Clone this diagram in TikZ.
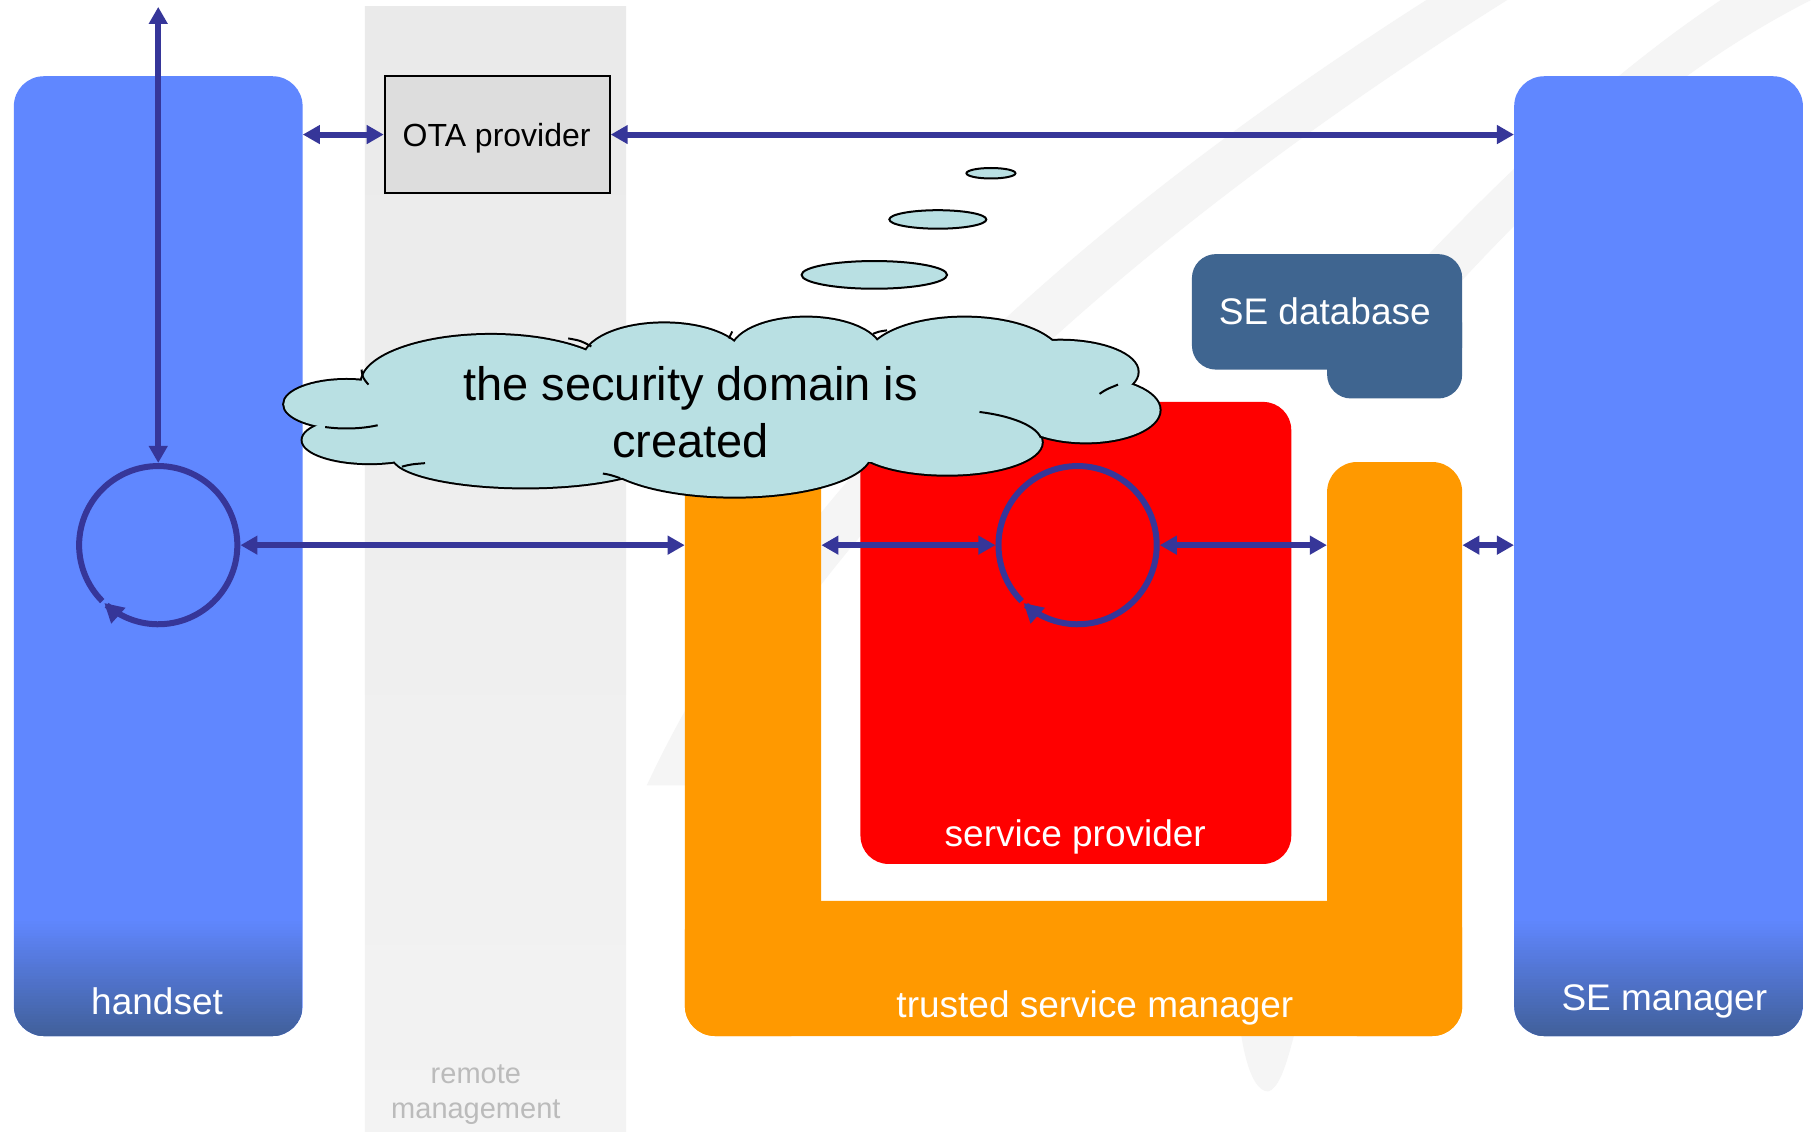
\documentclass[tikz,border=0pt]{standalone}
\usepackage{fontspec}
\setmainfont{Liberation Sans}
\usetikzlibrary{arrows.meta,calc,shapes.geometric}
\definecolor{hblue}{HTML}{6087FF}
\definecolor{hdark}{HTML}{41609B}
\definecolor{navy}{HTML}{363699}
\definecolor{tsmor}{HTML}{FF9900}
\definecolor{spred}{HTML}{FF0000}
\definecolor{sedb}{HTML}{3F6590}
\definecolor{cloudc}{HTML}{B9E0E3}
\definecolor{otagray}{HTML}{DDDDDD}
\definecolor{colgray}{HTML}{EAEAEA}
\definecolor{colgraytwo}{HTML}{F3F3F3}
\definecolor{wm}{HTML}{F5F5F5}
\definecolor{rmtext}{HTML}{BBBBBB}
\begin{document}
\begin{tikzpicture}[x=1.155pt,y=-1.155pt,
  bigbox/.style={rectangle, rounded corners=30pt, fill=hblue, inner sep=0pt,
    minimum width=288.75pt, minimum height=959.8pt},
  conn/.style={draw=navy, line width=6pt, {Triangle[length=17pt,width=18pt]}-{Triangle[length=17pt,width=18pt]}},
  loopar/.style={draw=navy, line width=6pt, -{Triangle[length=19pt,width=20pt]}},
  circnode/.style={circle, minimum size=164pt, inner sep=0pt},
  otabox/.style={rectangle, draw=black, line width=2pt, fill=otagray, inner sep=0pt,
    minimum width=225pt, minimum height=117pt},
  tsmpart/.style={rectangle, fill=tsmor, rounded corners=30pt, inner sep=0pt},
  lbl/.style={text=white, font=\fontsize{37pt}{44pt}\selectfont, inner sep=0pt, anchor=base},
  bubble/.style={ellipse, draw=black, line width=2pt, fill=cloudc, inner sep=0pt},
  cloudline/.style={draw=black, line width=2pt}
]
\useasboundingbox (0,0) rectangle (1568,980);
\fill[white] (0,0) rectangle (1568,980);
% faint watermark
\fill[wm] (1235,0) .. controls (1000,150) and (700,380) .. (560,680) -- (600,680) .. controls (740,400) and (1050,160) .. (1305,0) -- cycle;
\fill[wm] (1490,0) .. controls (1400,60) and (1300,150) .. (1200,260) -- (1250,260) .. controls (1350,150) and (1450,60) .. (1568,0) -- cycle;
\fill[wm] (1070,800) .. controls (1068,900) and (1082,945) .. (1098,945) .. controls (1115,940) and (1122,880) .. (1145,800) -- cycle;
% remote management column
\shade[top color=colgray, bottom color=colgraytwo] (316,6) rectangle (542,980);
\node[text=rmtext, font=\fontsize{29pt}{35pt}\selectfont, align=center, inner sep=0pt] (rmlbl) at (412,948) {remote\\management};

% handset and SE manager
\node[bigbox] (hset) at (137,481.5) {};
\node[bigbox] (sem) at (1436,481.5) {};
\foreach \bx in {12,1311} {
  \begin{scope}
    \clip[rounded corners=30pt] (\bx,66) rectangle ++(250,831);
    \foreach \i in {0,...,40} {
      \pgfmathsetmacro\pc{\i*2.5}
      \fill[hdark!\pc!hblue] (\bx,795+\i*2.5) rectangle ++(250,2.8);
    }
    \fill[hdark] (\bx,896) rectangle ++(250,2);
  \end{scope}
}
\node[lbl] (hlbl) at (136,878) {handset};
\node[lbl] (semlbl) at (1441,875) {SE manager};

% trusted service manager (U shape)
\node[tsmpart, minimum width=136.3pt, minimum height=597.1pt] (tsmL) at (652,638.5) {};
\node[tsmpart, minimum width=135.1pt, minimum height=574pt] (tsmR) at (1207.5,648.5) {};
\node[tsmpart, minimum width=777.3pt, minimum height=135.1pt] (tsmB) at (929.5,838.5) {};
\node[lbl] (tsmlbl) at (948,881) {trusted service manager};

% service provider
\node[rectangle, fill=spred, rounded corners=28pt, inner sep=0pt, minimum width=430.8pt, minimum height=462pt] (sp) at (931.5,548) {};
\node[lbl] (splbl) at (931,733) {service provider};

% SE database
\node[rectangle, fill=sedb, rounded corners=24pt, inner sep=0pt, minimum width=135.1pt, minimum height=98.2pt] (sedbtab) at (1207.5,302.5) {};
\node[rectangle, fill=sedb, rounded corners=24pt, inner sep=0pt, minimum width=270.3pt, minimum height=115.5pt] (sedb) at (1149,270) {};
\node[lbl] (sedblbl) at (1147,281) {SE database};

% cloud
\begin{scope}
\foreach \cx/\cy/\rx/\ry in {300/350/54/21, 320/381/58/20, 425/332/112/42, 575/312/70/32, 698/305/65/30, 835/312/85/37, 918/322/67/27, 940/355/64/28, 820/383/82/28, 636/392/118/38, 455/395/115/27}
  \draw[line width=4pt] (\cx,\cy) ellipse [x radius=\rx, y radius=\ry];
\foreach \cx/\cy/\rx/\ry in {300/350/54/21, 320/381/58/20, 425/332/112/42, 575/312/70/32, 698/305/65/30, 835/312/85/37, 918/322/67/27, 940/355/64/28, 820/383/82/28, 636/392/118/38, 455/395/115/27, 620/350/280/45, 380/372/40/12, 350/364/22/6, 540/385/60/15, 760/385/50/15}
  \fill[cloudc] (\cx,\cy) ellipse [x radius=\rx, y radius=\ry];
\draw[cloudline] plot[domain=-70:-8, samples=30, smooth] ({820+82*cos(\x)},{383+28*sin(\x)});
\draw[cloudline] plot[domain=110:60, samples=20, smooth] ({300+54*cos(\x)},{350+21*sin(\x)});
\draw[cloudline] (492,293) .. controls (503,295) .. (512,300);
\draw[cloudline] (952,341) .. controls (958,337) .. (968,333);
\draw[cloudline] (522,410) .. controls (528,411) .. (537,414);
\draw[cloudline] (756,289) .. controls (761,287) .. (768,286);
\draw[cloudline] (348,404) .. controls (356,402) .. (368,401);
\draw[cloudline] (313,320) .. controls (314,327) .. (319,333);
\draw[cloudline] (631,293) .. controls (632,290) .. (634,287);
\end{scope}
\node[font=\fontsize{47pt}{57.5pt}\selectfont, align=center, inner sep=0pt] (cloudtxt) at (598,357) {the security domain is\\created};

% thought bubbles
\node[bubble, minimum width=145.5pt, minimum height=27.7pt] (b1) at (757,238) {};
\node[bubble, minimum width=97pt, minimum height=18.5pt] (b2) at (812,190) {};
\node[bubble, minimum width=49pt, minimum height=10.5pt] (b3) at (858,150) {};

% OTA provider
\node[otabox] (ota) at (430.5,116.5) {};
\node[font=\fontsize{32pt}{38pt}\selectfont, inner sep=0pt, anchor=base] (otalbl) at (430,127) {OTA provider};

% loops
\node[circnode] (hc) at (137,472) {};
\node[circnode] (rc) at (933,472) {};
\draw[loopar] plot[domain=-225:133, samples=120, smooth] ({137+68.5*cos(\x)},{472+68.5*sin(\x)});
\draw[loopar] plot[domain=-225:133, samples=120, smooth] ({933+68.5*cos(\x)},{472+68.5*sin(\x)});

% connectors
\coordinate (topend) at (137,6);
\draw[conn] (topend) -- (hc.north);
\draw[conn] (hset.east |- ota) -- (ota.west);
\draw[conn] (ota.east) -- (sem.west |- ota);
\draw[conn] (hc.east) -- (tsmL.west |- hc);
\draw[conn] (tsmL.east |- rc) -- (rc.west);
\draw[conn] (rc.east) -- (tsmR.west |- rc);
\draw[conn] (tsmR.east |- rc) -- (sem.west |- rc);
\end{tikzpicture}
\end{document}
